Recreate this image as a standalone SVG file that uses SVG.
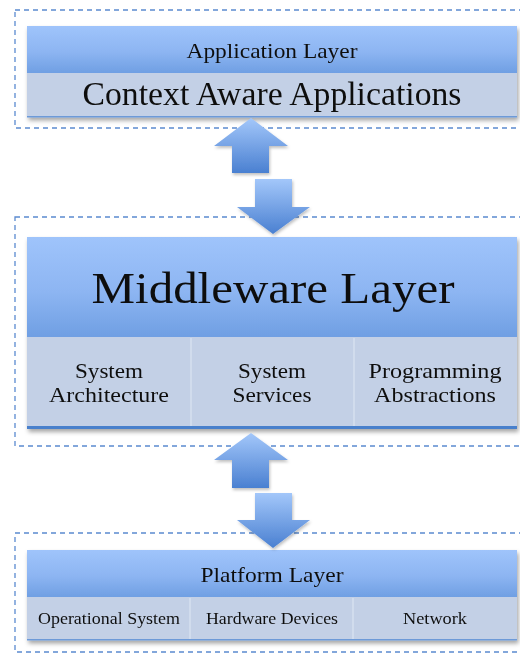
<svg xmlns="http://www.w3.org/2000/svg" width="520" height="653" viewBox="0 0 520 653">
<defs>
<linearGradient id="hdr" x1="0" y1="0" x2="0" y2="1">
<stop offset="0" stop-color="#9fc4fb"/>
<stop offset="0.55" stop-color="#8db5f2"/>
<stop offset="1" stop-color="#6f9fe3"/>
</linearGradient>
<linearGradient id="arr" x1="0" y1="0" x2="0" y2="1">
<stop offset="0" stop-color="#a3c7fa"/>
<stop offset="1" stop-color="#4a80d1"/>
</linearGradient>
<filter id="sh" x="-5%" y="-5%" width="112%" height="120%">
<feDropShadow dx="1.5" dy="3" stdDeviation="2" flood-color="#000" flood-opacity="0.35"/>
</filter>
<filter id="ash" x="-20%" y="-20%" width="150%" height="150%">
<feDropShadow dx="1" dy="2" stdDeviation="1.5" flood-color="#000" flood-opacity="0.25"/>
</filter>
</defs>
<style>
.dash{fill:none;stroke:#5b8ad0;stroke-width:1.3;stroke-dasharray:5 4}
.body{fill:#c3d0e6}
.hdr{fill:url(#hdr)}
.div{stroke:#d6e0ef;stroke-width:1.5}
.t{font-family:"Liberation Serif","Times New Roman",serif;fill:#111;text-anchor:middle}
.arrow{fill:url(#arr);filter:url(#ash)}
</style>

<rect class="dash" x="15" y="10" width="520" height="118"/>
<rect class="dash" x="15" y="217" width="520" height="229"/>
<rect class="dash" x="15" y="533" width="520" height="119"/>

<g id="application-layer" filter="url(#sh)">
<rect class="body" x="27" y="26" width="490" height="91"/>
<rect class="hdr" x="27" y="26" width="490" height="47"/>
<rect x="27" y="116" width="490" height="1.5" fill="#6d9ad8"/>
<text class="t" x="272" y="58" font-size="22" textLength="171" lengthAdjust="spacingAndGlyphs">Application Layer</text>
<text class="t" x="272" y="105" font-size="33" textLength="379" lengthAdjust="spacingAndGlyphs">Context Aware Applications</text>
</g>

<g id="middleware-layer" filter="url(#sh)">
<rect class="body" x="27" y="237" width="490" height="192"/>
<rect class="hdr" x="27" y="237" width="490" height="100"/>
<line class="div" x1="191" y1="338" x2="191" y2="426"/>
<line class="div" x1="354" y1="338" x2="354" y2="426"/>
<rect x="27" y="426" width="490" height="3" fill="#4a80cc"/>
<text class="t" x="273" y="303" font-size="45" textLength="363" lengthAdjust="spacingAndGlyphs">Middleware Layer</text>
<text class="t" x="109" y="378" font-size="22" textLength="68" lengthAdjust="spacingAndGlyphs">System</text>
<text class="t" x="109" y="402" font-size="22" textLength="120" lengthAdjust="spacingAndGlyphs">Architecture</text>
<text class="t" x="272" y="378" font-size="22" textLength="68" lengthAdjust="spacingAndGlyphs">System</text>
<text class="t" x="272" y="402" font-size="22" textLength="79" lengthAdjust="spacingAndGlyphs">Services</text>
<text class="t" x="435" y="378" font-size="22" textLength="133" lengthAdjust="spacingAndGlyphs">Programming</text>
<text class="t" x="435" y="402" font-size="22" textLength="122" lengthAdjust="spacingAndGlyphs">Abstractions</text>
</g>

<g id="platform-layer" filter="url(#sh)">
<rect class="body" x="27" y="550" width="490" height="90"/>
<rect class="hdr" x="27" y="550" width="490" height="47"/>
<line class="div" x1="190" y1="598" x2="190" y2="639"/>
<line class="div" x1="353" y1="598" x2="353" y2="639"/>
<rect x="27" y="639" width="490" height="1.5" fill="#6d9ad8"/>
<text class="t" x="272" y="582" font-size="22" textLength="143" lengthAdjust="spacingAndGlyphs">Platform Layer</text>
<text class="t" x="109" y="624" font-size="16.5" textLength="142" lengthAdjust="spacingAndGlyphs">Operational System</text>
<text class="t" x="272" y="624" font-size="16.5" textLength="132" lengthAdjust="spacingAndGlyphs">Hardware Devices</text>
<text class="t" x="435" y="624" font-size="16.5" textLength="64" lengthAdjust="spacingAndGlyphs">Network</text>
</g>

<g id="connectors">
<path class="arrow" d="M251,118 L288,146 L269,146 L269,173 L232,173 L232,146 L214,146 Z"/>
<path class="arrow" d="M255,179 L292,179 L292,207 L310,207 L273,234 L237,207 L255,207 Z"/>
<path class="arrow" d="M251,433 L288,460 L269,460 L269,488 L232,488 L232,460 L214,460 Z"/>
<path class="arrow" d="M255,493 L292,493 L292,520 L310,520 L273,548 L237,520 L255,520 Z"/>
</g>
</svg>
